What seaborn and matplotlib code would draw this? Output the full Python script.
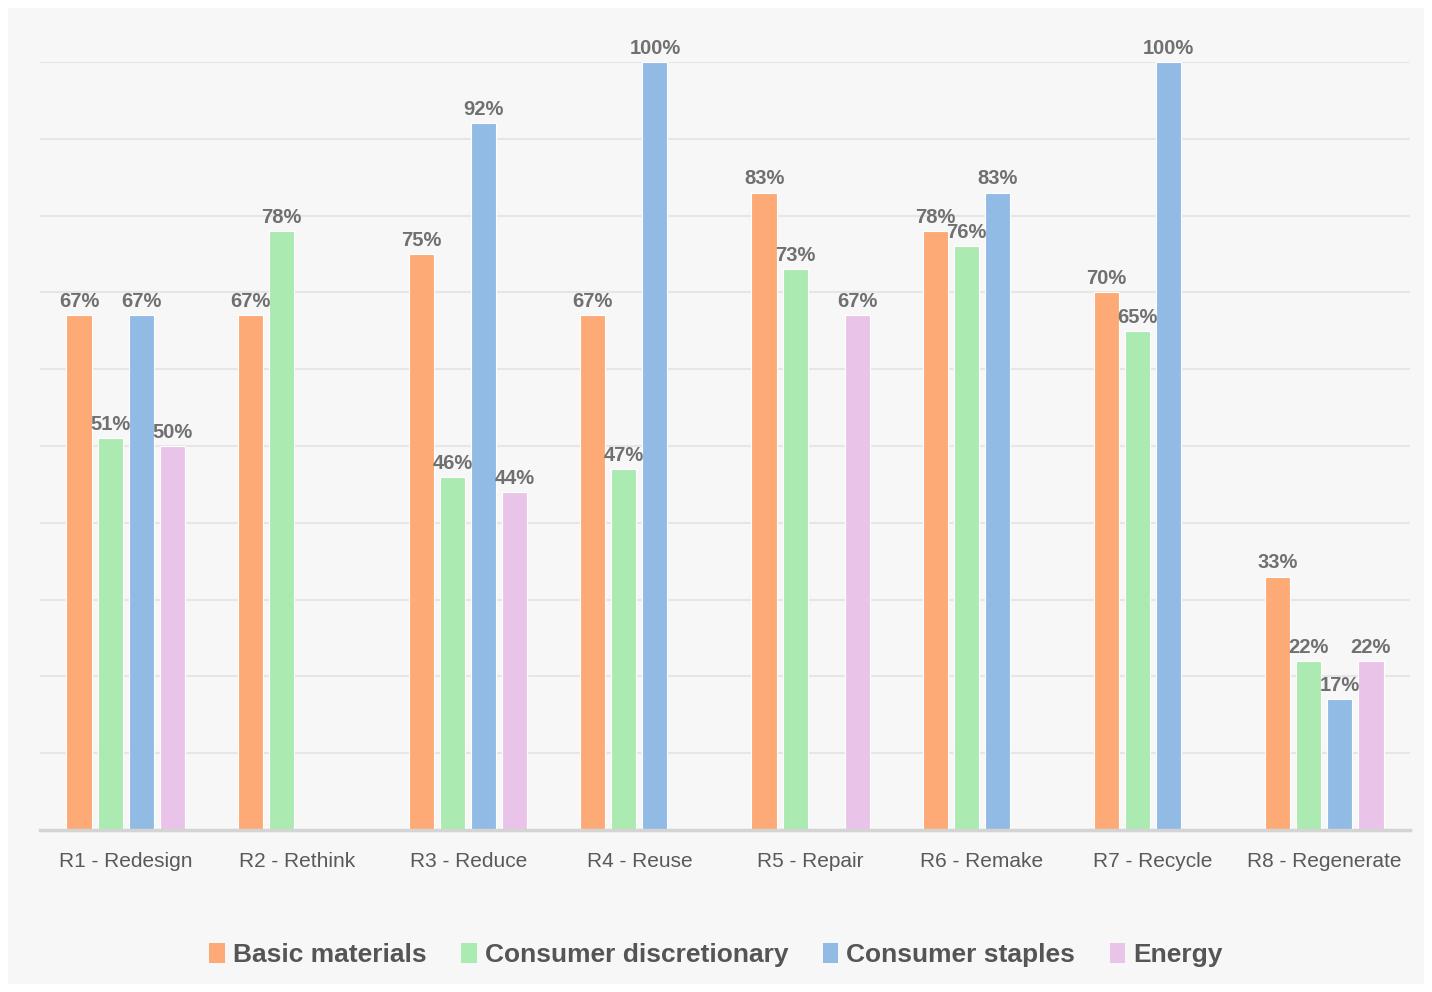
import numpy as np
import pandas as pd
import matplotlib
matplotlib.use("Agg")
import matplotlib.pyplot as plt
from matplotlib import font_manager
from matplotlib.patches import Rectangle
import seaborn as sns

categories = ["R1 - Redesign", "R2 - Rethink", "R3 - Reduce", "R4 - Reuse",
              "R5 - Repair", "R6 - Remake", "R7 - Recycle", "R8 - Regenerate"]
sectors = ["Basic materials", "Consumer discretionary", "Consumer staples", "Energy"]
basic_materials = [67, 67, 75, 67, 83, 78, 70, 33]
consumer_discretionary = [51, 78, 46, 47, 73, 76, 65, 22]
consumer_staples = [67, np.nan, 92, 100, np.nan, 83, 100, 17]
energy = [50, np.nan, 44, np.nan, 67, np.nan, np.nan, 22]
colors = ["#fdaa76", "#abebb1", "#91bbe5", "#eac4e8"]

sns.set_theme(style="white")
names = {f.name for f in font_manager.fontManager.ttflist}
family = "Liberation Sans Narrow" if "Liberation Sans Narrow" in names else "Liberation Sans"
plt.rcParams["font.family"] = [family, "DejaVu Sans"]

rows = []
for s, vals in zip(sectors, [basic_materials, consumer_discretionary, consumer_staples, energy]):
    for c, v in zip(categories, vals):
        rows.append({"category": c, "sector": s, "value": v})
df = pd.DataFrame(rows)

fig = plt.figure(figsize=(14.32, 9.92), dpi=100)
fig.patch.set_facecolor("white")
# light grey panel inside a thin white frame
bg = fig.add_axes([8 / 1432, 8 / 992, 1 - 16 / 1432, 1 - 16 / 992], zorder=-5)
bg.set_facecolor("#f7f7f7")
bg.set_xticks([])
bg.set_yticks([])
for sp in bg.spines.values():
    sp.set_visible(False)

ax = fig.add_axes([40 / 1432, 1 - 830 / 992, 1370 / 1432, 768 / 992], zorder=1)
ax.set_facecolor("none")

sns.barplot(data=df, x="category", y="value", hue="sector", order=categories,
            hue_order=sectors, palette=colors, width=0.725, gap=0.19,
            saturation=1, edgecolor="white", linewidth=0.8, ax=ax, legend=True)

for cont in ax.containers:
    ax.bar_label(cont, labels=[f"{v:.0f}%" for v in cont.datavalues],
                 padding=3, fontsize=14.5, fontweight="bold", color="#707070",
                 clip_on=False)

ax.set_xlim(-0.5, 7.5)
ax.set_ylim(0, 100)
ax.set_yticks(np.arange(0, 101, 10))
ax.yaxis.grid(True, color="#e6e6e6", linewidth=1.5)
ax.set_axisbelow(True)
ax.tick_params(axis="y", left=False, labelleft=False)
ax.tick_params(axis="x", bottom=False, labelsize=15, labelcolor="#595959", pad=10)
ax.set_xlabel("")
ax.set_ylabel("")
for side in ["top", "right", "left"]:
    ax.spines[side].set_visible(False)
ax.spines["bottom"].set_color("#d4d4d4")
ax.spines["bottom"].set_linewidth(2.5)

ax.legend_.remove()
handles = [Rectangle((0, 0), 1, 1, facecolor=c, edgecolor="none") for c in colors]
fig.legend(handles, sectors, loc="center", bbox_to_anchor=(0.5, 1 - 955 / 992),
           ncol=4, frameon=False, handlelength=0.6, handleheight=0.8,
           handletextpad=0.3, columnspacing=1.3,
           prop={"size": 19, "weight": "bold"}, labelcolor="#555555")

fig.savefig("out.png", dpi=100, facecolor=fig.get_facecolor())
